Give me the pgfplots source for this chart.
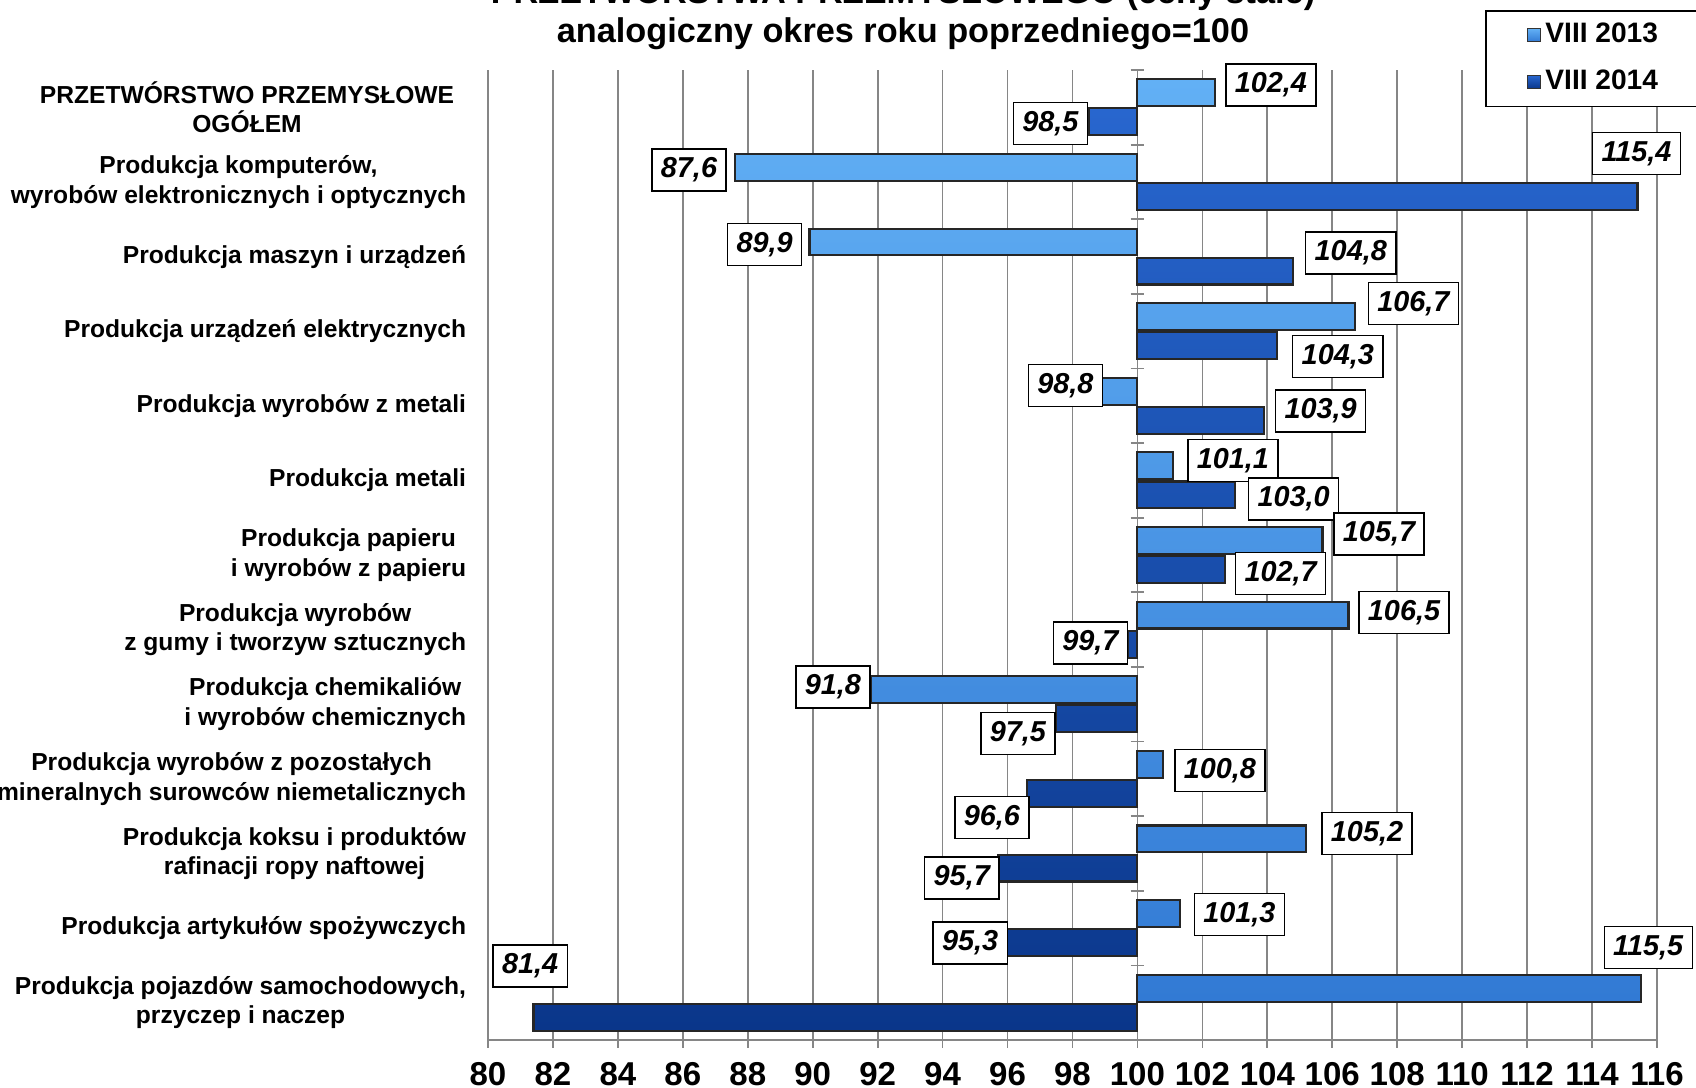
\documentclass[border=0pt]{standalone}
\usepackage{pgfplots}
\pgfplotsset{compat=1.18}
\usepackage{pgfplotstable}
\usepackage{fontspec}
\setmainfont{Liberation Sans}
\definecolor{gridc}{RGB}{134,134,134}
\definecolor{aTop}{RGB}{98,176,245}
\definecolor{aMid}{RGB}{150,212,255}
\definecolor{aBot}{RGB}{50,122,212}
\definecolor{bTop}{RGB}{40,102,206}
\definecolor{bMid}{RGB}{40,116,226}
\definecolor{bBot}{RGB}{10,54,138}
\pgfplotstableread{
pos v13 v14
0 102.4 98.5
1 87.6 115.4
2 89.9 104.8
3 106.7 104.3
4 98.8 103.9
5 101.1 103.0
6 105.7 102.7
7 106.5 99.7
8 91.8 97.5
9 100.8 96.6
10 105.2 95.7
11 101.3 95.3
12 115.5 81.4
}\data
\pgfplotstableread{
lx ly v
104.11 -0.30 102.4
97.32 0.22 98.5
86.19 0.84 87.6
115.37 0.62 115.4
88.52 1.84 89.9
106.57 1.95 104.8
108.50 2.63 106.7
106.17 3.34 104.3
97.78 3.73 98.8
105.64 4.07 103.9
102.94 4.73 101.1
104.81 5.25 103.0
107.44 5.72 105.7
104.41 6.25 102.7
108.21 6.77 106.5
98.55 7.18 99.7
90.62 7.77 91.8
96.32 8.39 97.5
102.54 8.89 100.8
95.52 9.52 96.6
107.07 9.73 105.2
94.59 10.33 95.7
103.14 10.82 101.3
94.85 11.20 95.3
81.30 11.51 81.4
115.73 11.26 115.5
}\labels
\begin{document}
\begin{tikzpicture}
\begin{axis}[
  at={(48.8mm,4.8mm)}, anchor=south west,
  width=116.9mm, height=97mm, scale only axis,
  clip=false,
  xmin=-20, xmax=16,
  ymin=-0.5, ymax=12.5, y dir=reverse,
  axis x line*=bottom, axis y line*=left,
  axis line style={gridc, line width=0.5pt},
  xtick={-20,-18,-16,-14,-12,-10,-8,-6,-4,-2,0,2,4,6,8,10,12,14,16},
  xticklabels={80,82,84,86,88,90,92,94,96,98,100,102,104,106,108,110,112,114,116},
  xticklabel style={font=\bfseries\fontsize{9.4}{11}\selectfont, anchor=north, yshift=-0.3mm},
  xtick style={gridc, line width=0.5pt},
  tick align=center, major tick length=1.5mm,
  xmajorgrids, major grid style={gridc, line width=0.5pt},
  ytick={0,1,2,3,4,5,6,7,8,9,10,11,12},
  yticklabels={
    {PRZETWÓRSTWO PRZEMYSŁOWE\hspace*{1.2mm}\\OGÓŁEM\hspace*{1.2mm}},
    {Produkcja komputerów,\\wyrobów elektronicznych i optycznych},
    {Produkcja maszyn i urządzeń},
    {Produkcja urządzeń elektrycznych},
    {Produkcja wyrobów z metali},
    {Produkcja metali},
    {Produkcja papieru\\i wyrobów z papieru},
    {Produkcja wyrobów\\z gumy i tworzyw sztucznych},
    {Produkcja chemikaliów\\i wyrobów chemicznych},
    {Produkcja wyrobów z pozostałych\\mineralnych surowców niemetalicznych},
    {Produkcja koksu i produktów\\rafinacji ropy naftowej},
    {Produkcja artykułów spożywczych},
    {Produkcja pojazdów samochodowych,\\przyczep i naczep}},
  yticklabel style={align=center, font=\bfseries\fontsize{7.0}{8.4}\selectfont, xshift=-0.2mm},
  ytick style={draw=none},
  title={PRZETWÓRSTWA PRZEMYSŁOWEGO (ceny stałe)\\analogiczny okres roku poprzedniego=100},
  title style={at={(axis description cs:0.355,1.0062)}, anchor=base, align=center,
    font=\bfseries\fontsize{9.75}{11.2}\selectfont, inner sep=0pt},
  legend style={at={(axis description cs:0.853,1.062)}, anchor=north west,
    draw=black, line width=0.5pt, fill=white,
    font=\bfseries\fontsize{8}{9.6}\selectfont,
    inner xsep=4.1mm, inner ysep=0.8mm, row sep=1.4mm, nodes={inner sep=0.4mm}},
  legend cell align=left,
  legend image code/.code={\draw[#1, draw=black!80, line width=0.4pt] (0mm,-0.65mm) rectangle (1.3mm,0.65mm);},
]
\addplot[xbar, bar width=0.36, bar shift=-0.195, draw=black!85, line width=0.6pt,
  top color=aTop, middle color=aMid, bottom color=aBot]
  table[x expr=\thisrow{v13}-100, y=pos] {\data};
\addlegendentry{VIII 2013}
\addplot[xbar, bar width=0.36, bar shift=0.195, draw=black!85, line width=0.6pt,
  top color=bTop, middle color=bMid, bottom color=bBot]
  table[x expr=\thisrow{v14}-100, y=pos] {\data};
\addlegendentry{VIII 2014}
\pgfplotsinvokeforeach{-0.5,0.5,1.5,2.5,3.5,4.5,5.5,6.5,7.5,8.5,9.5,10.5,11.5,12.5}{
  \draw[gridc, line width=0.5pt] (axis cs:-0.21,#1) -- (axis cs:0.21,#1);
}
\addplot[draw=none, mark=none, forget plot,
  point meta=explicit,
  nodes near coords={\pgfmathprintnumber[fixed,fixed zerofill,precision=1,use comma,assume math mode=true]{\pgfplotspointmeta}},
  nodes near coords align={center},
  every node near coord/.append style={anchor=center, draw=black, line width=0.4pt, fill=white,
    font=\bfseries\itshape\fontsize{8.2}{9.8}\selectfont, inner xsep=0.9mm, inner ysep=0pt,
    minimum height=4.2mm, text=black}]
  table[x expr=\thisrow{lx}-100, y=ly, meta=v] {\labels};
\end{axis}
\pgfresetboundingbox
\useasboundingbox (0,0) rectangle (169.6mm,108.8mm);
\end{tikzpicture}
\end{document}
